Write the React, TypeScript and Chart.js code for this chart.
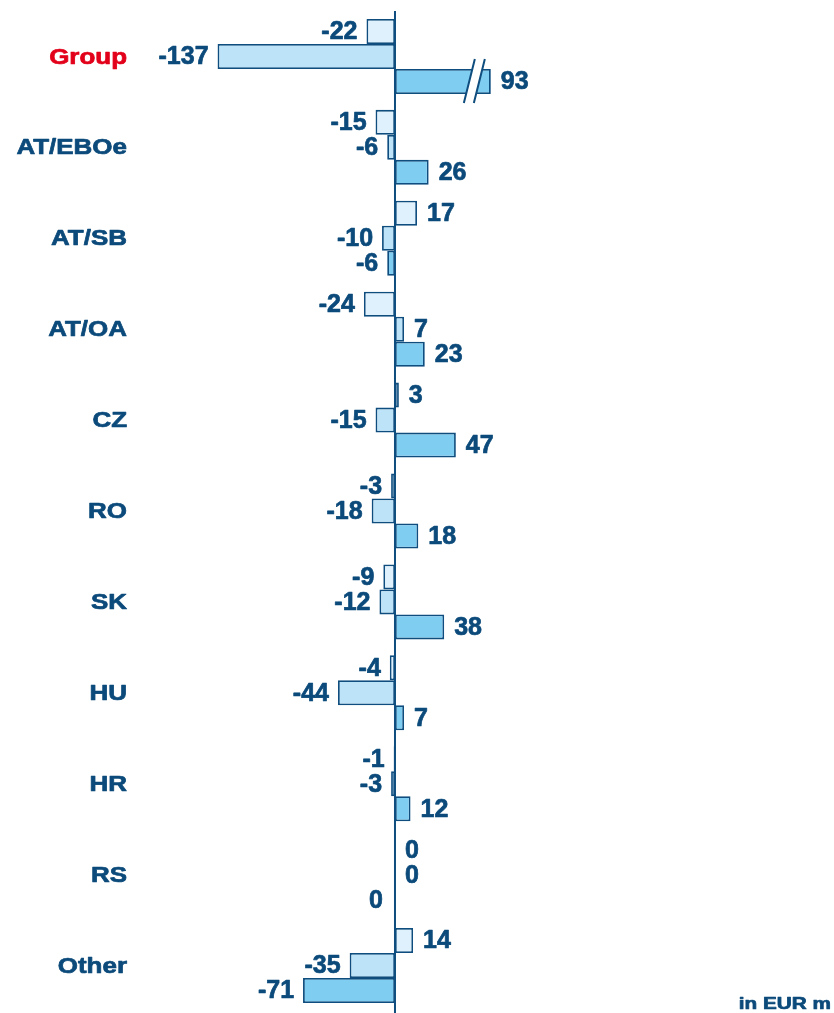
import React, { useEffect, useRef } from "react";
import { Chart, registerables } from "chart.js";

Chart.register(...registerables);

const categories = ["Group", "AT/EBOe", "AT/SB", "AT/OA", "CZ", "RO", "SK", "HU", "HR", "RS", "Other"];
const series1 = [-22, -15, 17, -24, 3, -3, -9, -4, -1, 0, 14];
const series2 = [-137, -6, -10, 7, -15, -18, -12, -44, -3, 0, -35];
const series3 = [93, 26, -6, 23, 47, 18, 38, 7, 12, -0, -71];
const highlightCategory = "Group";
const unitLabel = "in EUR m";
// values larger than this are drawn with an axis break
const BREAK_CAP = 74;

const seriesColors = ["#dff1fc", "#bde3f8", "#80cdf2"];
const borderColor = "#0e4d7e";
const textColor = "#0b4a7a";
const redColor = "#e2001a";

function isNeg(v: number) {
  return v < 0 || Object.is(v, -0);
}

function heavyText(ctx: CanvasRenderingContext2D, text: string, x: number, y: number, sx: number) {
  ctx.save();
  ctx.translate(x, y);
  ctx.scale(sx, 1);
  ctx.lineJoin = "round";
  ctx.lineWidth = 0.7;
  ctx.strokeStyle = ctx.fillStyle as string;
  ctx.fillText(text, 0, 0);
  ctx.strokeText(text, 0, 0);
  ctx.restore();
}

const overlayPlugin = {
  id: "overlay",
  afterDatasetsDraw(chart: any) {
    const ctx: CanvasRenderingContext2D = chart.ctx;
    const xs = chart.scales.x;
    const ys = chart.scales.y;
    const area = chart.chartArea;
    const all = [series1, series2, series3];

    // axis break marks
    all.forEach((arr, di) => {
      const meta = chart.getDatasetMeta(di);
      arr.forEach((v, i) => {
        if (v > BREAK_CAP) {
          const el = meta.data[i];
          const xe = el.x;
          const yc = el.y;
          const h = el.height;
          const top = yc - h / 2 - 10;
          const bot = yc + h / 2 + 9;
          const dxTop = -16, dxBot = -27, gap = 10;
          ctx.save();
          ctx.fillStyle = "#ffffff";
          const slope = (dxBot - dxTop) / (bot - top);
          const xAt = (y: number) => xe + dxTop + slope * (y - top);
          const y1 = yc - h / 2 - 2;
          const y2 = yc + h / 2 + 2;
          ctx.beginPath();
          ctx.moveTo(xAt(y1), y1);
          ctx.lineTo(xAt(y1) + gap, y1);
          ctx.lineTo(xAt(y2) + gap, y2);
          ctx.lineTo(xAt(y2), y2);
          ctx.closePath();
          ctx.fill();
          ctx.strokeStyle = borderColor;
          ctx.lineWidth = 2;
          for (const off of [0, gap]) {
            ctx.beginPath();
            ctx.moveTo(xe + dxTop + off, top);
            ctx.lineTo(xe + dxBot + off, bot);
            ctx.stroke();
          }
          ctx.restore();
        }
      });
    });

    // zero axis
    const x0 = xs.getPixelForValue(0);
    ctx.save();
    ctx.strokeStyle = borderColor;
    ctx.lineWidth = 2;
    ctx.beginPath();
    ctx.moveTo(x0, area.top);
    ctx.lineTo(x0, chart.height);
    ctx.stroke();
    ctx.restore();

    // value labels
    ctx.save();
    ctx.font = "bold 25px 'Liberation Sans', Arial, sans-serif";
    ctx.fillStyle = textColor;
    ctx.textBaseline = "middle";
    all.forEach((arr, di) => {
      const meta = chart.getDatasetMeta(di);
      arr.forEach((v, i) => {
        const el = meta.data[i];
        const r = Math.round(v);
        const txt = String(r === 0 ? 0 : r);
        if (isNeg(v)) {
          ctx.textAlign = "right";
          heavyText(ctx, txt, Math.min(el.x, x0) - (v === 0 ? 12 : 9), el.y + 1, 1);
        } else {
          ctx.textAlign = "left";
          heavyText(ctx, txt, Math.max(el.x, x0) + 10, el.y + 1, 1);
        }
      });
    });
    ctx.restore();

    // category labels
    ctx.save();
    ctx.font = "bold 22px 'Liberation Sans', Arial, sans-serif";
    ctx.textAlign = "right";
    ctx.textBaseline = "middle";
    categories.forEach((c, i) => {
      ctx.fillStyle = c === highlightCategory ? redColor : textColor;
      heavyText(ctx, c, 127, ys.getPixelForValue(i) + 1, 1.18);
    });
    ctx.restore();

    // unit label
    ctx.save();
    ctx.font = "bold 17px 'Liberation Sans', Arial, sans-serif";
    ctx.textAlign = "right";
    ctx.textBaseline = "middle";
    ctx.fillStyle = textColor;
    heavyText(ctx, unitLabel, 831, 1004, 1.22);
    ctx.restore();
  },
};

export default function App() {
  const ref = useRef<HTMLCanvasElement | null>(null);
  useEffect(() => {
    if (!ref.current) return;
    const cap = (arr: number[]) => arr.map((v) => (v > BREAK_CAP ? BREAK_CAP : v));
    const mk = (arr: number[], i: number) => ({
      label: `S${i + 1}`,
      data: cap(arr),
      backgroundColor: seriesColors[i],
      borderColor: borderColor,
      borderWidth: 1.8,
      borderSkipped: false,
      barPercentage: 1,
      categoryPercentage: 0.825,
    });
    const chart = new Chart(ref.current, {
      type: "bar",
      data: {
        labels: categories,
        datasets: [mk(series1, 0), mk(series2, 1), mk(series3, 2)],
      },
      options: {
        indexAxis: "y",
        responsive: false,
        animation: false,
        layout: { padding: { top: 11, bottom: 2, left: 0, right: 0 } },
        plugins: { legend: { display: false }, tooltip: { enabled: false } },
        scales: {
          x: { type: "linear", min: -305, max: 339, display: false },
          y: { type: "category", display: false },
        },
      },
      plugins: [overlayPlugin],
    } as any);
    return () => chart.destroy();
  }, []);
  return (
    <div style={{ position: "absolute", left: 0, top: 0, width: 834, height: 1013, background: "#fff" }}>
      <canvas ref={ref} width={834} height={1013} style={{ display: "block" }} />
    </div>
  );
}
